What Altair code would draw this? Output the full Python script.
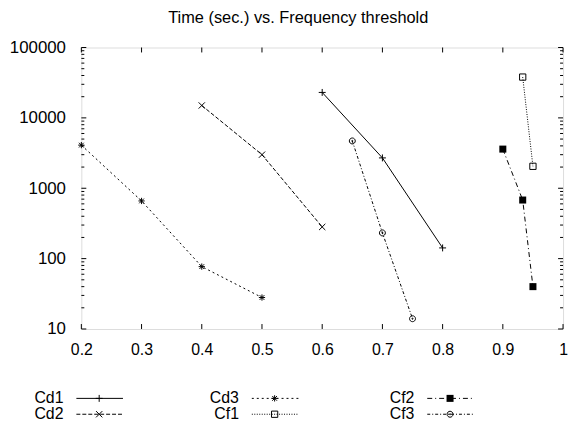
import altair as alt
import pandas as pd

FONT = "Liberation Sans"

# ---- data ----
series_names = ["Cd1", "Cd2", "Cd3", "Cf1", "Cf2", "Cf3"]
cd1_x = [0.6, 0.7, 0.8]
cd1_y = [23000, 2700, 142]
cd2_x = [0.4, 0.5, 0.6]
cd2_y = [15000, 3000, 282]
cd3_x = [0.2, 0.3, 0.4, 0.5]
cd3_y = [4100, 660, 77, 28]
cf1_x = [0.933, 0.95]
cf1_y = [38000, 2050]
cf2_x = [0.9, 0.933, 0.95]
cf2_y = [3600, 680, 40]
cf3_x = [0.65, 0.7, 0.75]
cf3_y = [4700, 232, 14]

x_ticks = [0.2, 0.3, 0.4, 0.5, 0.6, 0.7, 0.8, 0.9, 1.0]
y_ticks = [10, 100, 1000, 10000, 100000]
title_text = "Time (sec.) vs. Frequency threshold"

series_x = [cd1_x, cd2_x, cd3_x, cf1_x, cf2_x, cf3_x]
series_y = [cd1_y, cd2_y, cd3_y, cf1_y, cf2_y, cf3_y]

# ---- styles ----
PLUS = "M-1,0L1,0M0,-1L0,1"
CROSS = "M-1,-1L1,1M-1,1L1,-1"
STAR = "M-1,0L1,0M0,-1L0,1M-0.75,-0.75L0.75,0.75M-0.75,0.75L0.75,-0.75"
CIRCDOT = ("M-1,0A1,1 0 1,0 1,0A1,1 0 1,0 -1,0Z"
           "M-0.2,0A0.2,0.2 0 1,0 0.2,0A0.2,0.2 0 1,0 -0.2,0Z")
styles = {
    "Cd1": dict(dash=None, shape=PLUS, filled=False, size=49),
    "Cd2": dict(dash=[4, 2], shape=CROSS, filled=False, size=40),
    "Cd3": dict(dash=[2, 3], shape=STAR, filled=False, size=40),
    "Cf1": dict(dash=[1, 1.5], shape="square", filled=False, size=40),
    "Cf2": dict(dash=[5, 3, 1, 3], shape="square", filled=True, size=50),
    "Cf3": dict(dash=[3, 2, 1, 2], shape=CIRCDOT, filled=False, size=36),
}

W, H = 486, 284

xscale = alt.Scale(domain=[0.2, 1.0], nice=False, zero=False)
yscale = alt.Scale(type="log", domain=[10, 100000], nice=False)
xaxis = alt.Axis(values=x_ticks, format=".1~f", ticks=False, domain=False, grid=False,
                 labelFont=FONT, labelFontSize=16, labelColor="black", labelPadding=13,
                 labelFlush=False, labelOverlap=False, title=None,
                 minExtent=30, maxExtent=30)
yaxis = alt.Axis(values=y_ticks, format="d", ticks=False, domain=False, grid=False,
                 labelFont=FONT, labelFontSize=17, labelColor="black", labelPadding=16,
                 labelOverlap=False, title=None, minExtent=72, maxExtent=72)

X = lambda: alt.X("threshold:Q", scale=xscale, axis=xaxis)
Y = lambda: alt.Y("time:Q", scale=yscale, axis=yaxis)

layers = []
for name, xs, ys in zip(series_names, series_x, series_y):
    st = styles[name]
    df = pd.DataFrame({"threshold": xs, "time": ys, "series": name})
    base = alt.Chart(df).encode(x=X(), y=Y())
    if st["dash"]:
        line = base.mark_line(color="black", strokeWidth=1, strokeDash=st["dash"])
    else:
        line = base.mark_line(color="black", strokeWidth=1)
    pts = base.mark_point(shape=st["shape"], filled=st["filled"], size=st["size"],
                          color="black", strokeWidth=1, opacity=1)
    layers += [line, pts]

# inward tick marks (gnuplot style) on all four sides
xt = pd.DataFrame({"threshold": x_ticks})
minor_y = [m * d for d in [10, 100, 1000, 10000] for m in range(2, 10)]
ymaj = pd.DataFrame({"time": y_ticks})
ymin = pd.DataFrame({"time": minor_y})
tick = dict(color="black", strokeWidth=1)
layers += [
    alt.Chart(xt).mark_rule(**tick).encode(x=X(), y=alt.value(H), y2=alt.value(H - 5)),
    alt.Chart(xt).mark_rule(**tick).encode(x=X(), y=alt.value(0), y2=alt.value(5)),
    alt.Chart(ymaj).mark_rule(**tick).encode(y=Y(), x=alt.value(0), x2=alt.value(5)),
    alt.Chart(ymaj).mark_rule(**tick).encode(y=Y(), x=alt.value(W), x2=alt.value(W - 5)),
    alt.Chart(ymin).mark_rule(**tick).encode(y=Y(), x=alt.value(0), x2=alt.value(3)),
    alt.Chart(ymin).mark_rule(**tick).encode(y=Y(), x=alt.value(W), x2=alt.value(W - 3)),
]

main = alt.layer(*layers).properties(
    width=W, height=H,
    title=alt.TitleParams(title_text, font=FONT, fontSize=16.5, fontWeight="normal",
                          color="black", anchor="middle", frame="bounds", offset=12, dx=10),
)

# ---- legend (column-major, label left of sample) ----
lx = alt.Scale(domain=[0, 2], range=[-18, 336])
ly = alt.Scale(domain=[-0.5, 1.5], reverse=True)
leg_layers = []
for i, name in enumerate(series_names):
    st = styles[name]
    df = pd.DataFrame({"col": [i // 2], "row": [i % 2], "series": [name]})
    b = alt.Chart(df).encode(x=alt.X("col:Q", scale=lx, axis=None),
                             y=alt.Y("row:Q", scale=ly, axis=None))
    leg_layers.append(b.mark_text(align="right", baseline="middle", font=FONT, fontSize=16,
                                  color="black").encode(text="series:N"))
    rule_kw = dict(color="black", strokeWidth=1, xOffset=13, x2Offset=60)
    if st["dash"]:
        rule_kw["strokeDash"] = st["dash"]
    leg_layers.append(b.mark_rule(**rule_kw).encode(x2="col:Q"))
    leg_layers.append(b.mark_point(shape=st["shape"], filled=st["filled"], size=st["size"],
                                   color="black", strokeWidth=1, opacity=1, xOffset=36))

legend = alt.layer(*leg_layers).properties(
    width=W, height=32, view=alt.ViewBackground(stroke="transparent"))

chart = alt.vconcat(main, legend, spacing=30).properties(padding=0).configure_view(
    stroke="black", strokeWidth=1
).configure(background="white")

chart.save("out.html", embed_options={"renderer": "svg", "actions": False})
